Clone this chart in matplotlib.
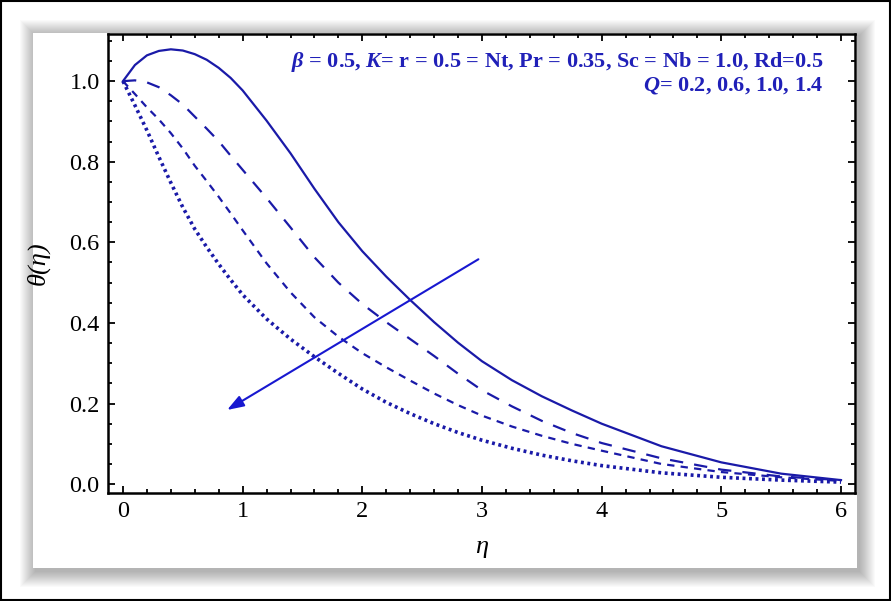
import matplotlib
matplotlib.use("Agg")
from matplotlib import pyplot as plt
from matplotlib.patches import Rectangle
from matplotlib.ticker import MultipleLocator

eta = [0, 0.1, 0.2, 0.3, 0.4, 0.5, 0.6, 0.7, 0.8, 0.9, 1.0, 1.2, 1.4, 1.6, 1.8, 2.0,
       2.2, 2.4, 2.6, 2.8, 3.0, 3.25, 3.5, 3.75, 4.0, 4.5, 5.0, 5.5, 6.0]
theta_q02 = [1.0, 1.040, 1.064, 1.075, 1.079, 1.076, 1.067, 1.053, 1.033, 1.008, 0.977,
             0.902, 0.821, 0.733, 0.650, 0.578, 0.515, 0.457, 0.402, 0.351, 0.305,
             0.258, 0.218, 0.183, 0.150, 0.094, 0.054, 0.026, 0.010]
theta_q06 = [1.0, 1.002, 0.997, 0.985, 0.965, 0.942, 0.912, 0.882, 0.851, 0.815, 0.780,
             0.710, 0.637, 0.563, 0.500, 0.447, 0.402, 0.360, 0.318, 0.274, 0.233,
             0.193, 0.157, 0.127, 0.102, 0.064, 0.036, 0.019, 0.010]
theta_q10 = [1.0, 0.968, 0.935, 0.905, 0.871, 0.833, 0.790, 0.752, 0.713, 0.672, 0.630,
             0.548, 0.476, 0.414, 0.366, 0.325, 0.290, 0.257, 0.225, 0.196, 0.170,
             0.143, 0.120, 0.100, 0.083, 0.050, 0.030, 0.017, 0.008]
theta_q14 = [1.0, 0.940, 0.878, 0.812, 0.748, 0.687, 0.633, 0.588, 0.546, 0.507, 0.470,
             0.410, 0.360, 0.316, 0.275, 0.236, 0.203, 0.175, 0.150, 0.128, 0.109,
             0.089, 0.072, 0.058, 0.046, 0.028, 0.017, 0.010, 0.005]

xticks = [0, 1, 2, 3, 4, 5, 6]
yticks = [0.0, 0.2, 0.4, 0.6, 0.8, 1.0]

plt.rcParams['mathtext.fontset'] = 'custom'
plt.rcParams['mathtext.rm'] = 'Liberation Serif:bold'
plt.rcParams['mathtext.it'] = 'Liberation Serif:italic:bold'
plt.rcParams['mathtext.bf'] = 'Liberation Serif:bold'

W, H = 891, 601
fig = plt.figure(figsize=(W / 100, H / 100), dpi=100)
fig.patch.set_facecolor('white')

# outer black border
fig.patches.append(Rectangle((0.001, 0.001), 0.998, 0.997, transform=fig.transFigure,
                             fill=False, ec='black', lw=1.5, zorder=-1))

# soft drop shadow + white panel
px0, py0, px1, py1 = 33, 33, 857, 568
for i in range(16, 0, -1):
    fig.patches.append(Rectangle(((px0 - i + 3) / W, 1 - (py1 + i + 3) / H),
                                 (px1 - px0 + 2 * i - 1) / W, (py1 - py0 + 2 * i) / H,
                                 transform=fig.transFigure, fc='black', ec='none',
                                 alpha=0.018, zorder=-9))
fig.patches.append(Rectangle((px0 / W, 1 - py1 / H), (px1 - px0) / W, (py1 - py0) / H,
                             transform=fig.transFigure, fc='white', ec='none', zorder=-8))

ax = fig.add_axes([108 / W, 1 - 493 / H, (855 - 108) / W, (493 - 34) / H])
ax.set_facecolor('white')

c = '#1a1aa8'
ax.plot(eta, theta_q02, color=c, lw=1.6)
ax.plot(eta, theta_q06, color=c, lw=1.6, dashes=(6, 5))
ax.plot(eta, theta_q10, color=c, lw=1.6, dashes=(3.3, 2.8))
ax.plot(eta, theta_q14, color=c, lw=2.6, dashes=(0.8, 1.0))

ax.annotate('', xy=(0.87, 0.184), xytext=(2.97, 0.558),
            arrowprops=dict(arrowstyle='-|>,head_length=1.0,head_width=0.35',
                            color='#1818d0', lw=1.5, shrinkA=0, shrinkB=0))

tc = '#2020b8'
ax.text(5.85, 1.035, r'$\mathit{\beta}$ = 0.5, $\mathit{K}$= r = 0.5 = Nt, Pr = 0.35, Sc = Nb = 1.0, Rd=0.5',
        ha='right', va='baseline', fontsize=16, color=tc,
        family='Liberation Serif', fontweight='bold')
ax.text(5.85, 0.978, r'$\mathit{Q}$= 0.2, 0.6, 1.0, 1.4',
        ha='right', va='baseline', fontsize=16, color=tc,
        family='Liberation Serif', fontweight='bold')

ax.set_xlim(-0.125, 6.117)
ax.set_ylim(-0.022, 1.117)
ax.set_xticks(xticks)
ax.set_yticks(yticks)
ax.set_xticklabels([str(v) for v in xticks], family='Liberation Serif', fontsize=17.5)
ax.set_yticklabels(['%.1f' % v for v in yticks], family='Liberation Serif', fontsize=17.5)
ax.xaxis.set_minor_locator(MultipleLocator(0.2))
ax.yaxis.set_minor_locator(MultipleLocator(0.05))
ax.tick_params(which='both', direction='in', top=True, right=True, width=1.3, color='black')
ax.tick_params(which='major', length=5, pad=6)
ax.tick_params(which='minor', length=3)
for s in ax.spines.values():
    s.set_linewidth(1.8)

ax.set_xlabel('η', family='Liberation Serif', style='italic', fontsize=19, labelpad=10)
ax.set_ylabel('θ(η)', family='Liberation Serif', style='italic', fontsize=19, labelpad=14)

fig.savefig('out.png', dpi=100)
